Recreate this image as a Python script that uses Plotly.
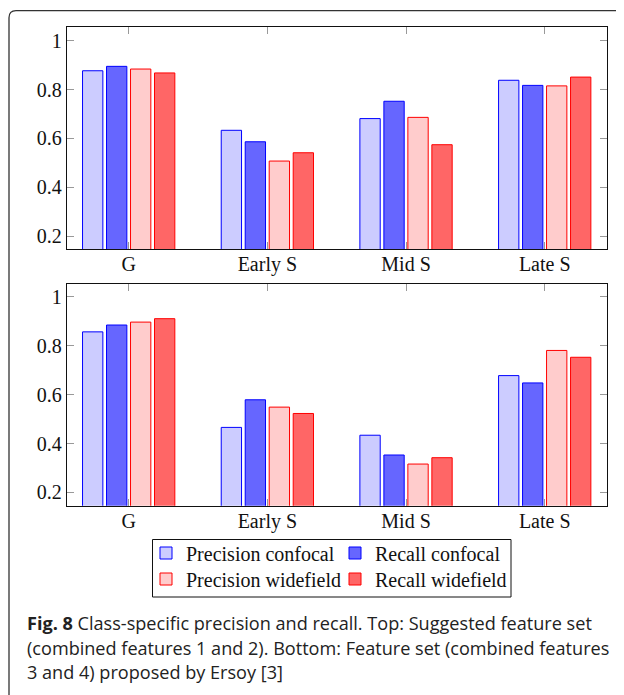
import plotly.graph_objects as go

# ---------------- data ----------------
categories = ["G", "Early S", "Mid S", "Late S"]
series_names = ["Precision confocal", "Recall confocal",
                "Precision widefield", "Recall widefield"]

top_precision_confocal = [0.877, 0.633, 0.681, 0.838]
top_recall_confocal = [0.895, 0.586, 0.752, 0.817]
top_precision_widefield = [0.884, 0.507, 0.686, 0.815]
top_recall_widefield = [0.868, 0.541, 0.574, 0.851]

bottom_precision_confocal = [0.857, 0.466, 0.434, 0.678]
bottom_recall_confocal = [0.885, 0.579, 0.353, 0.648]
bottom_precision_widefield = [0.897, 0.549, 0.316, 0.781]
bottom_recall_widefield = [0.911, 0.523, 0.342, 0.753]

y_tick_values = [0.2, 0.4, 0.6, 0.8, 1.0]
y_tick_labels = ["0.2", "0.4", "0.6", "0.8", "1"]

caption_lines = [
    "<b>Fig. 8</b> Class-specific precision and recall. Top: Suggested feature set",
    "(combined features 1 and 2). Bottom: Feature set (combined features",
    "3 and 4) proposed by Ersoy [3]",
]

# ---------------- styles ----------------
fills = ["#ccccff", "#6666ff", "#ffcccc", "#ff6666"]
edges = ["#0000ff", "#0000ff", "#ff0000", "#ff0000"]
legend_ids = ["legend", "legend", "legend2", "legend2"]
SERIF = "Liberation Serif"
# the page body has an 8px margin, so the figure is drawn 8px right/down
OFF = 8
W, H = 624 - OFF, 695 - OFF

top_series = [top_precision_confocal, top_recall_confocal,
              top_precision_widefield, top_recall_widefield]
bottom_series = [bottom_precision_confocal, bottom_recall_confocal,
                 bottom_precision_widefield, bottom_recall_widefield]

fig = go.Figure()
for i, (name, vals) in enumerate(zip(series_names, top_series)):
    fig.add_trace(go.Bar(x=categories, y=vals, name=name, xaxis="x", yaxis="y",
                         marker=dict(color=fills[i], line=dict(color=edges[i], width=1)),
                         legend=legend_ids[i], showlegend=True))
for i, (name, vals) in enumerate(zip(series_names, bottom_series)):
    fig.add_trace(go.Bar(x=categories, y=vals, name=name, xaxis="x2", yaxis="y2",
                         marker=dict(color=fills[i], line=dict(color=edges[i], width=1)),
                         showlegend=False))


def px_x(p):
    return (p - OFF) / W


def px_y(p):
    return 1 - (p - OFF) / H


xdom = [px_x(66.7), px_x(606.7)]
axis_common = dict(showline=True, linecolor="#111111", linewidth=1, mirror="ticks",
                   ticks="inside", ticklen=7, tickcolor="#999999", tickwidth=1,
                   showgrid=False, zeroline=False, automargin=False,
                   tickfont=dict(family=SERIF, size=20, color="#111111"))

legend_common = dict(orientation="h", xanchor="left", yanchor="middle",
                     borderwidth=0, bgcolor="rgba(0,0,0,0)",
                     font=dict(family=SERIF, size=20, color="#111111"),
                     traceorder="normal", itemwidth=30,
                     entrywidth=144, entrywidthmode="pixels")

yrange = [0.1455, 1.055]
fig.update_layout(
    width=W, height=H,
    margin=dict(l=0, r=0, t=0, b=0, autoexpand=False),
    paper_bgcolor="white", plot_bgcolor="white",
    barmode="group", bargap=0.308, bargroupgap=0.153,
    xaxis=dict(domain=xdom, anchor="y", range=[-0.447, 3.447], ticklabelstandoff=-3,
               **axis_common),
    yaxis=dict(domain=[px_y(249.3), px_y(27.3)], anchor="x", range=yrange,
               tickvals=y_tick_values, ticktext=y_tick_labels, **axis_common),
    xaxis2=dict(domain=xdom, anchor="y2", range=[-0.447, 3.447], ticklabelstandoff=-3,
                **axis_common),
    yaxis2=dict(domain=[px_y(505.7), px_y(283.5)], anchor="x2", range=yrange,
                tickvals=y_tick_values, ticktext=y_tick_labels, **axis_common),
    showlegend=True,
    legend=dict(x=px_x(146), y=px_y(553), **legend_common),
    legend2=dict(x=px_x(146), y=px_y(579), **legend_common),
)

# legend frame
fig.add_shape(type="rect", xref="paper", yref="paper",
              x0=px_x(152.5), x1=px_x(511), y0=px_y(597), y1=px_y(539.5),
              line=dict(color="#111111", width=1), layer="above")

# caption
for k, line in enumerate(caption_lines):
    fig.add_annotation(xref="paper", yref="paper", x=px_x(25), y=px_y(623 + k * 24.5),
                       xanchor="left", yanchor="middle", showarrow=False, align="left",
                       text=line, font=dict(family="Open Sans", size=18.1, color="#222222"))

# outer frame with rounded top-left corner
fx, fy, r = 9, 10.7, 7
path = (f"M {px_x(fx)},{px_y(H + OFF + 5)} L {px_x(fx)},{px_y(fy + r)} "
        f"Q {px_x(fx)},{px_y(fy)} {px_x(fx + r)},{px_y(fy)} L {px_x(W + OFF + 5)},{px_y(fy)}")
fig.add_shape(type="path", xref="paper", yref="paper", path=path,
              line=dict(color="#333333", width=1.3))

fig.write_html("out.html")
